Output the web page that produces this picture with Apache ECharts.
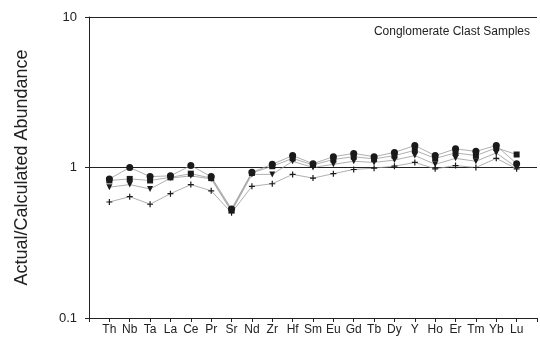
<!DOCTYPE html>
<html>
<head>
<meta charset="utf-8">
<script src="https://cdn.jsdelivr.net/npm/echarts@6/dist/echarts.min.js"></script>
<style>
  html, body { margin: 0; padding: 0; background: #fff; }
  #chart { width: 540px; height: 347px; }
</style>
</head>
<body>
<div id="chart"></div>
<script>
// Elements along the x axis
const elements = ['Th','Nb','Ta','La','Ce','Pr','Sr','Nd','Zr','Hf','Sm','Eu','Gd','Tb','Dy','Y','Ho','Er','Tm','Yb','Lu'];

// Actual / calculated abundance ratios for each clast sample
const sampleA = [0.84, 1.00, 0.87, 0.88, 1.03, 0.87, 0.53, 0.93, 1.05, 1.20, 1.06, 1.18, 1.24, 1.18, 1.26, 1.40, 1.20, 1.33, 1.28, 1.40, 1.06];
const sampleB = [0.82, 0.84, 0.82, 0.86, 0.91, 0.85, 0.52, 0.92, 1.02, 1.15, 1.04, 1.13, 1.18, 1.14, 1.20, 1.30, 1.15, 1.25, 1.20, 1.35, 1.22];
const sampleC = [0.74, 0.77, 0.72, 0.85, 0.88, 0.84, 0.51, 0.90, 0.90, 1.10, 1.00, 1.05, 1.10, 1.08, 1.12, 1.20, 1.05, 1.15, 1.10, 1.25, 1.00];
const sampleD = [0.59, 0.64, 0.57, 0.67, 0.77, 0.70, 0.50, 0.75, 0.78, 0.90, 0.85, 0.91, 0.97, 0.99, 1.02, 1.08, 0.98, 1.03, 1.00, 1.15, 0.98];

// Y axis tick labels
const yTicks = { 0.1: '0.1', 1: '1', 10: '10' };

// Pad the category axis with an empty slot at each end
const xCats = [''].concat(elements, ['']);
const pad = arr => [null].concat(arr, [null]);

const plusPath = 'path://M4,0 L6,0 L6,4 L10,4 L10,6 L6,6 L6,10 L4,10 L4,6 L0,6 L0,4 L4,4 Z';

function mkSeries(data, symbol, rotate, size) {
  return {
    type: 'line',
    data: pad(data),
    symbol: symbol,
    symbolSize: size,
    symbolRotate: rotate,
    connectNulls: false,
    lineStyle: { color: '#9a9a9a', width: 0.8 },
    itemStyle: { color: '#1a1a1a' },
    z: 3
  };
}

const chart = echarts.init(document.getElementById('chart'), null, { renderer: 'canvas' });
chart.setOption({
  animation: false,
  backgroundColor: '#fff',
  textStyle: { fontFamily: 'Liberation Sans, Arial, sans-serif' },
  title: {
    text: 'Conglomerate Clast Samples',
    right: 5,
    top: 21,
    textStyle: { fontSize: 12, fontWeight: 'normal', color: '#222', fontFamily: 'Liberation Sans, Arial, sans-serif' }
  },
  grid: { left: 89, top: 17, width: 454, height: 301 },
  xAxis: {
    type: 'category',
    data: xCats,
    boundaryGap: false,
    axisLine: { lineStyle: { color: '#222', width: 1 } },
    axisTick: { show: true, interval: 0, length: 4, lineStyle: { color: '#222' } },
    axisLabel: { interval: 0, color: '#222', fontSize: 12, margin: 6 },
    splitLine: { show: false }
  },
  yAxis: {
    type: 'log',
    logBase: 10,
    min: 0.1,
    max: 10,
    name: 'Actual/Calculated Abundance',
    nameLocation: 'middle',
    nameRotate: 90,
    nameGap: 58,
    nameTextStyle: { fontSize: 18, color: '#222' },
    axisLine: { show: true, lineStyle: { color: '#222', width: 1 } },
    axisTick: { show: true, length: 4, lineStyle: { color: '#222' } },
    minorTick: { show: false },
    axisLabel: {
      color: '#222',
      fontSize: 13,
      margin: 12,
      formatter: v => yTicks[Math.round(v * 10) / 10] || ''
    },
    splitLine: { show: true, lineStyle: { color: '#222', width: 1 } }
  },
  series: [
    mkSeries(sampleD, plusPath, 0, 6),
    mkSeries(sampleC, 'triangle', 180, 6),
    mkSeries(sampleB, 'rect', 0, 6),
    mkSeries(sampleA, 'circle', 0, 7)
  ]
});
</script>
</body>
</html>
